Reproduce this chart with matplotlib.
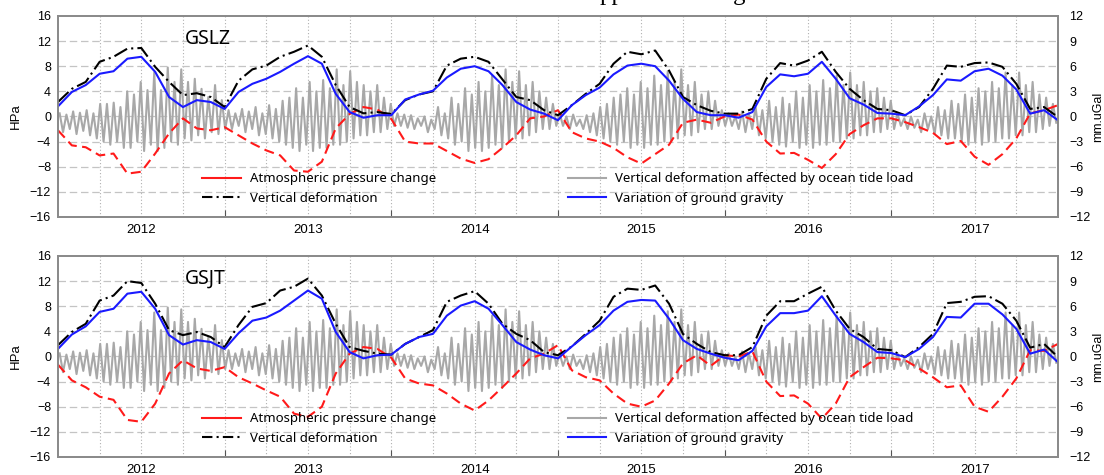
import numpy as np
import matplotlib
matplotlib.use('Agg')
import matplotlib.pyplot as plt
from matplotlib.lines import Line2D

# monthly samples, 2012.0 .. 2018.0
months = 2012 + np.arange(73) / 12.0

# GSLZ (upper panel), HPa scale
gslz_pressure = [-2.2, -4.6, -4.9, -6.2, -5.9, -9.1, -8.8, -5.9, -2.7, -0.3, -1.9, -2.2, -1.7,
                 -3.0, -4.3, -5.4, -6.2, -8.6, -8.8, -7.2, -1.9, 0.4, 1.5, 1.1, -0.4,
                 -4.0, -4.3, -4.3, -5.5, -6.7, -7.4, -6.8, -5.0, -3.0, -0.3, 0.0, 1.0,
                 -2.5, -3.5, -4.0, -5.0, -6.5, -7.5, -6.0, -4.5, -1.0, -0.5, -1.0, 0.0,
                 0.3, -0.5, -4.0, -5.9, -5.8, -6.9, -8.2, -6.0, -2.8, -1.4, -0.3, -0.3,
                 -0.9, -1.7, -2.6, -4.4, -3.9, -6.4, -7.7, -6.0, -3.5, 0.5, 1.0, 1.8]
gslz_vertical = [2.3, 4.4, 5.5, 8.7, 9.5, 10.8, 10.9, 7.9, 5.5, 3.4, 3.7, 3.1, 1.5,
                 5.7, 7.5, 8.1, 9.5, 10.3, 11.3, 9.5, 5.0, 1.5, 0.5, 0.7, 0.4,
                 2.6, 3.5, 4.0, 8.1, 9.2, 9.5, 8.7, 5.9, 3.1, 2.6, 1.0, 0.2,
                 1.8, 3.6, 5.2, 8.4, 10.3, 9.9, 10.5, 7.3, 3.1, 1.8, 0.9, 0.45,
                 0.45, 1.2, 6.0, 8.5, 8.1, 8.9, 10.3, 7.1, 4.4, 2.6, 1.2, 1.0,
                 0.2, 1.5, 4.4, 8.1, 7.9, 8.5, 8.6, 7.9, 5.2, 1.2, 1.5, -0.1]
gslz_gravity = [1.6, 3.9, 5.0, 6.8, 7.2, 9.2, 9.5, 7.1, 3.1, 1.5, 2.6, 2.3, 1.2,
                3.9, 5.2, 6.0, 7.1, 8.4, 9.6, 8.4, 3.6, 0.7, -0.2, 0.2, 0.2,
                2.7, 3.5, 4.1, 6.2, 7.6, 8.0, 7.2, 5.0, 2.3, 1.1, 0.45, -0.6,
                1.8, 3.4, 4.6, 6.7, 8.1, 8.4, 8.0, 5.7, 2.8, 0.7, 0.2, 0.2,
                -0.2, 0.7, 4.7, 6.7, 6.4, 6.8, 8.7, 6.0, 2.9, 1.9, 0.55, 0.45,
                0.2, 1.6, 3.4, 5.9, 5.7, 7.2, 7.6, 6.5, 4.3, 0.45, 1.0, -0.6]

# GSJT (lower panel), HPa scale
gsjt_pressure = [-1.3, -3.8, -4.9, -6.4, -6.9, -10.1, -10.4, -7.5, -2.7, -0.6, -1.9, -2.3, -1.7,
                 -3.3, -4.3, -5.4, -6.4, -9.1, -9.6, -8.0, -2.7, 0.45, 1.5, 1.2, -0.2,
                 -3.5, -4.3, -4.6, -5.9, -7.5, -8.6, -7.0, -4.9, -2.7, -0.3, 0.45, 1.8,
                 -2.2, -3.3, -3.8, -5.9, -7.5, -8.0, -7.0, -4.3, -1.1, 0.2, -1.5, 0.2,
                 0.0, 0.8, -4.0, -6.3, -6.2, -7.5, -9.9, -7.5, -3.3, -1.7, -0.2, -0.3,
                 -0.6, -1.9, -3.3, -4.9, -4.6, -8.0, -8.8, -6.4, -3.5, 1.0, 0.9, 2.0]
gsjt_vertical = [1.8, 3.9, 5.2, 8.9, 9.7, 12.0, 11.7, 8.4, 4.2, 3.4, 3.9, 3.1, 1.5,
                 5.0, 7.9, 8.5, 10.5, 11.1, 12.4, 9.7, 5.2, 1.5, 0.9, 0.45, 0.3,
                 2.0, 3.1, 4.2, 8.7, 9.7, 10.4, 8.4, 5.2, 3.6, 2.6, 0.7, 0.2,
                 1.6, 3.6, 5.7, 9.5, 10.8, 10.6, 11.3, 8.4, 3.6, 2.0, 0.7, 0.2,
                 0.2, 1.5, 6.5, 8.8, 8.8, 10.0, 11.1, 7.3, 4.4, 3.1, 1.2, 1.0,
                 -0.1, 1.5, 3.6, 8.5, 8.7, 9.5, 9.6, 8.4, 5.7, 1.4, 2.0, -0.1]
gsjt_gravity = [1.2, 3.5, 4.8, 7.1, 7.6, 10.0, 10.3, 7.6, 3.4, 1.9, 2.6, 2.3, 1.2,
                3.7, 5.7, 6.2, 7.3, 8.9, 10.5, 9.2, 3.9, 0.7, -0.3, 0.2, 0.3,
                2.0, 3.1, 3.6, 6.5, 8.1, 8.8, 7.6, 5.0, 2.3, 1.1, 0.2, -0.3,
                1.6, 3.4, 5.0, 7.3, 8.7, 9.0, 8.9, 6.0, 2.6, 1.2, 0.45, -0.2,
                -0.6, 0.9, 4.8, 6.9, 6.9, 7.3, 9.6, 6.5, 3.6, 2.3, 0.7, 0.55,
                -0.1, 1.2, 3.1, 6.3, 6.2, 8.4, 8.4, 6.7, 4.4, 0.45, 1.1, -0.9]

# ocean tide load deformation: crest and trough of each fortnightly cycle
tide_peaks = [0.5, 0.3, 0.8, 0.6, 1.0, 0.5, 2.0, 2.0, 2.2, 1.5, 4.0, 3.5, 5.5, 4.2, 7.0, 4.2, 7.8, 5.5, 7.5, 5.5, 6.0, 4.4, 3.1, 5.0, 2.6,
              1.0, 0.5, 1.2, 0.8, 1.5, 0.5, 1.8, 1.2, 2.5, 3.0, 4.5, 3.0, 5.5, 4.0, 5.8, 4.5, 7.5, 5.0, 7.2, 5.5, 5.0, 4.0, 5.0, 3.0, 2.0,
              0.5, 0.3, 0.2, -0.3, 0.0, -0.5, 1.5, 0.5, 3.0, 2.0, 4.5, 3.5, 5.5, 4.0, 6.5, 5.0, 7.5, 5.5, 7.2, 5.0, 5.5, 4.0, 3.0, 2.0,
              0.5, 0.0, 0.3, -0.5, 0.2, 0.5, 1.5, 2.0, 3.0, 3.5, 4.5, 3.5, 5.5, 4.5, 6.5, 5.0, 7.2, 5.5, 7.5, 5.0, 5.5, 3.5, 4.0, 2.5, 1.0,
              0.5, 0.0, 0.8, 0.5, 1.5, 1.0, 2.5, 1.5, 3.0, 2.0, 4.0, 3.0, 5.0, 4.0, 5.8, 4.5, 6.5, 5.0, 7.0, 5.0, 5.5, 4.0, 4.5, 3.0, 2.5,
              0.5, -0.3, 0.0, -0.5, 0.5, 0.0, 1.5, 1.0, 2.5, 2.0, 3.5, 3.0, 4.5, 4.0, 5.5, 4.5, 7.0, 5.0, 7.0, 5.0, 5.5, 3.5, 3.0, 2.0]
tide_troughs = [-2.5, -2.0, -2.8, -2.3, -3.0, -3.5, -4.0, -4.5, -4.0, -5.0, -5.0, -4.0, -5.5, -4.5, -5.5, -5.0, -4.0, -4.5, -3.5, -3.8, -3.0, -3.5, -2.5, -2.8, -2.0,
                -2.0, -1.5, -2.5, -2.0, -3.0, -2.8, -3.5, -4.0, -4.5, -5.0, -5.5, -4.5, -5.5, -5.0, -5.0, -4.5, -4.5, -4.0, -3.5, -3.0, -3.0, -2.5, -2.5, -2.0, -1.5,
                -1.5, -1.8, -2.0, -1.5, -2.5, -2.0, -3.0, -3.5, -4.5, -4.0, -5.5, -5.0, -5.5, -5.0, -4.5, -5.0, -4.0, -3.5, -3.5, -3.0, -2.5, -2.0, -2.0, -1.5,
                -1.5, -2.0, -1.5, -2.0, -2.5, -3.0, -3.5, -4.0, -4.5, -4.0, -5.0, -4.5, -5.0, -4.5, -4.5, -4.0, -4.0, -3.5, -3.0, -3.0, -2.5, -2.0, -2.0, -1.5, -1.5,
                -1.5, -2.0, -2.5, -2.0, -3.0, -3.5, -4.0, -4.5, -4.8, -4.0, -5.0, -4.5, -5.0, -4.5, -4.5, -4.0, -4.0, -3.5, -3.5, -3.0, -3.0, -2.5, -2.5, -2.0, -2.0,
                -1.5, -2.0, -1.8, -2.5, -2.0, -2.8, -3.0, -3.5, -3.5, -4.0, -4.5, -4.0, -4.5, -4.0, -4.0, -3.5, -3.5, -3.0, -3.0, -2.5, -2.5, -2.0, -1.5, -1.0]

years = [2012, 2013, 2014, 2015, 2016, 2017]
legend_labels = ['Atmospheric pressure change', 'Vertical deformation',
                 'Vertical deformation affected by ocean tide load', 'Variation of ground gravity']

n = len(tide_peaks)
step = 6.0 / n
tide_t = np.empty(2 * n)
tide_t[0::2] = 2012 + (np.arange(n) + 0.25) * step
tide_t[1::2] = 2012 + (np.arange(n) + 0.75) * step
tide_v = np.empty(2 * n)
tide_v[0::2] = tide_peaks
tide_v[1::2] = tide_troughs

TXT = 'Noto Sans'
TICK = 'Liberation Sans'
RED = '#ff1a1a'
BLUE = '#1a1aff'
GRAY = '#a8a8a8'


def draw_panel(ax, name, pressure, vertical, gravity):
    for q in np.arange(2012.25, 2018, 0.25):
        ax.axvline(q, color='#b0b0b0', lw=0.8, ls=(0, (1, 2)), zorder=1)
    for h in range(-12, 16, 4):
        ax.axhline(h, color='#c4c4c4', lw=0.9, ls=(0, (6, 3)), zorder=1)

    ax.plot(tide_t, tide_v, color=GRAY, lw=1.5, zorder=2)
    ax.plot(months, pressure, color=RED, lw=1.5, dashes=(4.8, 2.6), zorder=3)
    ax.plot(months, vertical, color='black', lw=1.5, dashes=(7, 2, 1, 2), zorder=4)
    ax.plot(months, gravity, color=BLUE, lw=1.5, zorder=5)

    ax.set_xlim(2012, 2018)
    ax.set_ylim(-16, 16)
    ax.set_yticks(range(-16, 17, 4))
    ax.set_xticks(range(2013, 2018))
    ax.set_xticklabels([])
    ax.set_xticks([y + 0.5 for y in years], minor=True)
    ax.set_xticklabels([str(y) for y in years], minor=True, fontfamily=TICK, fontsize=9.5)
    ax.tick_params(axis='x', which='major', direction='in', length=5, color='#555555', top=False)
    ax.tick_params(axis='x', which='minor', length=0, pad=5)
    ax.tick_params(axis='y', direction='in', length=0, pad=5)
    for lab in ax.get_yticklabels():
        lab.set_fontfamily(TICK)
        lab.set_fontsize(9)
    ax.set_ylabel('HPa', fontfamily=TICK, fontsize=9.5, labelpad=6)
    for s in ax.spines.values():
        s.set_color('#8a8a8a')
        s.set_linewidth(1.3)

    ax.text(2012.76, 12.4, name, fontfamily=TXT, fontsize=14, ha='left', va='center')

    rx = ax.twinx()
    rx.set_ylim(-12, 12)
    rx.set_yticks(range(-12, 13, 3))
    rx.tick_params(axis='y', direction='in', length=0, pad=8)
    for lab in rx.get_yticklabels():
        lab.set_fontfamily(TICK)
        lab.set_fontsize(9)
    rx.set_ylabel('mm.uGal', fontfamily=TICK, fontsize=9, labelpad=1)
    for s in rx.spines.values():
        s.set_color('#8a8a8a')
        s.set_linewidth(1.3)

    handles = [Line2D([], [], color=RED, lw=1.5),
               Line2D([], [], color='black', lw=1.5, dashes=(5, 2, 1, 2)),
               Line2D([], [], color=GRAY, lw=1.5),
               Line2D([], [], color=BLUE, lw=1.5)]
    ax.legend(handles, legend_labels, ncol=2, frameon=False, loc='lower center',
              bbox_to_anchor=(0.5, 0.015), prop={'family': TXT, 'size': 9.5},
              handlelength=2.9, handletextpad=0.7, columnspacing=10.0,
              labelspacing=0.5, borderaxespad=0.3)


fig = plt.figure(figsize=(11.04, 4.75), dpi=100)
ax1 = fig.add_axes([0.0525, 0.5432, 0.9058, 0.4232])
ax2 = fig.add_axes([0.0525, 0.0379, 0.9058, 0.4232])
draw_panel(ax1, 'GSLZ', gslz_pressure, gslz_vertical, gslz_gravity)
draw_panel(ax2, 'GSJT', gsjt_pressure, gsjt_vertical, gsjt_gravity)

# caption line above the figure, cut off by the top edge as in the source
fig.text(600 / 1104, 1.0, 'pp', fontfamily='Liberation Serif', fontsize=18, va='baseline')
fig.text(733 / 1104, 1.0, 'g', fontfamily='Liberation Serif', fontsize=18, va='baseline')

fig.savefig('out.png', dpi=100)
